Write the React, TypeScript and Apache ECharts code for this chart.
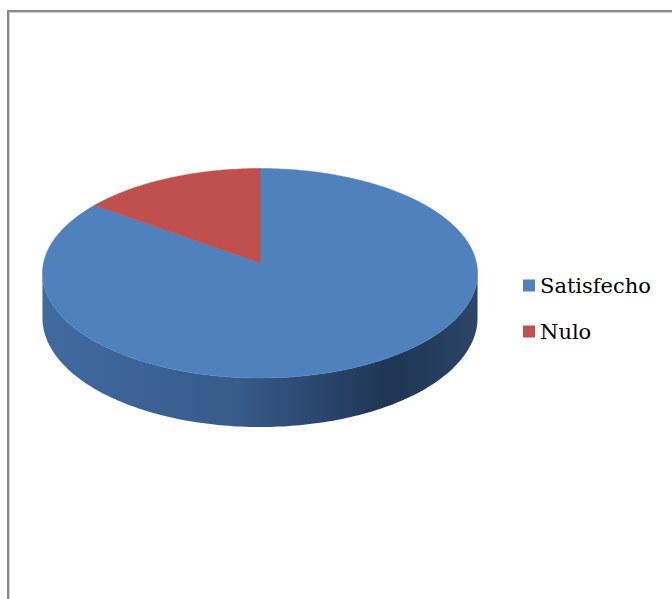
import React, { useEffect, useRef } from "react";
import * as echarts from "echarts";

// ---- data ----
const categories: string[] = ["Satisfecho", "Nulo"];
const values: number[] = [85, 15];
const sliceColors: string[] = ["#4f81bd", "#c0504d"];

// ---- 3D pie geometry (layout only) ----
const CX = 260;
const CY = 263;
const RA = 216.5;
const RB = 103.75;
const K = 0.0979; // perspective factor
const DEPTH = 44.2;

function proj(tDeg: number, depth = 0): number[] {
  const t = (tDeg * Math.PI) / 180;
  const u = Math.sin(t);
  const v = Math.cos(t);
  const w = 1 + K * v;
  return [CX + (RA * u) / w, CY - (RB * v) / w + depth / w];
}

function arcPoints(a0: number, a1: number, depth = 0): number[][] {
  const pts: number[][] = [];
  const n = Math.max(2, Math.ceil(Math.abs(a1 - a0) / 1));
  for (let i = 0; i <= n; i++) pts.push(proj(a0 + ((a1 - a0) * i) / n, depth));
  return pts;
}

const total = values.reduce((s, v) => s + v, 0);

function sliceRange(i: number): number[] {
  let s = 0;
  for (let j = 0; j < i; j++) s += values[j];
  return [(s / total) * 360, ((s + values[i]) / total) * 360];
}

const visA0 = (Math.acos(-K) * 180) / Math.PI;
const visA1 = 360 - visA0;

function makeRenderItem(i: number) {
  return (_params: any, _api: any) => {
    const [a0, a1] = sliceRange(i);
    const children: any[] = [];
    const w0 = Math.max(a0, visA0);
    const w1 = Math.min(a1, visA1);
    if (w1 > w0) {
      const top = arcPoints(w0, w1, 0);
      const bot = arcPoints(w0, w1, DEPTH).reverse();
      children.push({
        type: "polygon",
        shape: { points: top.concat(bot) },
        style: {
          fill: new echarts.graphic.LinearGradient(0, 0, 1, 0, [
            { offset: 0, color: "#416aa0" },
            { offset: 0.45, color: "#375b8a" },
            { offset: 0.8, color: "#1f3554" },
            { offset: 1, color: "#2b4668" },
          ]),
          stroke: null,
        },
      });
    }
    const face = [[CX, CY]].concat(arcPoints(a0, a1, 0));
    children.push({
      type: "polygon",
      shape: { points: face },
      style: { fill: sliceColors[i], stroke: sliceColors[i], lineWidth: 0.5 },
    });
    return { type: "group", children };
  };
}

export default function App() {
  const ref = useRef<HTMLDivElement>(null);
  useEffect(() => {
    if (!ref.current) return;
    const chart = echarts.init(ref.current, null, { renderer: "svg" });
    chart.setOption({
      animation: false,
      backgroundColor: "#ffffff",
      legend: {
        orient: "vertical",
        left: 518,
        top: 270,
        icon: "rect",
        itemWidth: 12,
        itemHeight: 12,
        itemGap: 25,
        data: categories,
        textStyle: {
          fontFamily: "DejaVu Serif",
          fontSize: 21,
          color: "#000000",
        },
      },
      graphic: [
        {
          type: "rect",
          shape: { x: 8, y: 11, width: 800, height: 800 },
          style: { fill: "none", stroke: "#8a8a8a", lineWidth: 2 },
          silent: true,
        },
        {
          type: "rect",
          shape: { x: 9.5, y: 12.5, width: 800, height: 800 },
          style: { fill: "none", stroke: "#cfcfcf", lineWidth: 1 },
          silent: true,
        },
      ],
      series: categories.map((name, i) => ({
        type: "custom",
        name,
        coordinateSystem: "none",
        silent: true,
        itemStyle: { color: sliceColors[i] },
        renderItem: makeRenderItem(i),
        data: [{ name, value: values[i] }],
      })),
    });
    return () => chart.dispose();
  }, []);
  return (
    <div
      ref={ref}
      style={{ position: "absolute", left: 0, top: 0, width: 672, height: 599, background: "#fff" }}
    />
  );
}
